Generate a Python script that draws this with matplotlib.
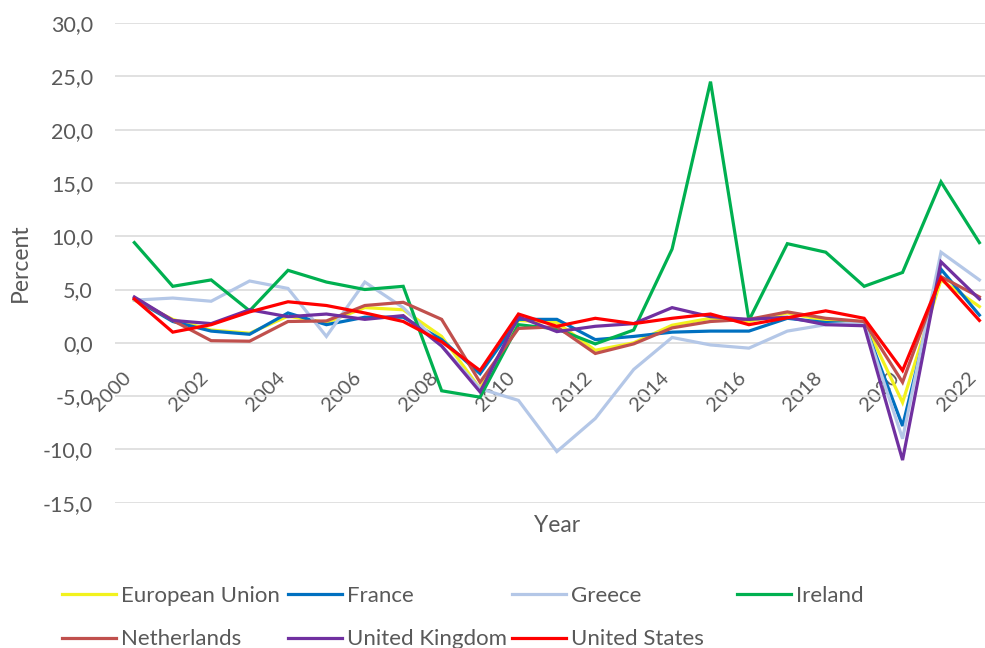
# Real GDP growth, selected economies, 2000-2022
import matplotlib.pyplot as plt
import numpy as np

plt.rcParams['font.family'] = ['Lato', 'DejaVu Sans']

# %%
# Data (percent)
years = list(range(2000, 2023))
eu = [4.0, 2.2, 1.2, 0.9, 2.5, 1.9, 3.3, 3.1, 0.6, -4.3, 2.1, 1.9, -0.7, 0.0, 1.65, 2.3, 2.0, 2.8, 2.1, 2.0, -5.6, 5.9, 3.4]
france = [4.1, 2.0, 1.1, 0.8, 2.8, 1.7, 2.4, 2.4, 0.3, -2.9, 2.2, 2.2, 0.3, 0.6, 1.0, 1.1, 1.1, 2.3, 1.9, 1.8, -7.8, 6.9, 2.6]
greece = [4.0, 4.2, 3.9, 5.8, 5.1, 0.6, 5.7, 3.3, -0.3, -4.3, -5.4, -10.2, -7.1, -2.5, 0.5, -0.2, -0.5, 1.1, 1.7, 1.9, -9.0, 8.5, 5.9]
ireland = [9.4, 5.3, 5.9, 3.0, 6.8, 5.7, 5.0, 5.3, -4.5, -5.1, 1.7, 1.3, -0.1, 1.2, 8.8, 24.5, 2.1, 9.3, 8.5, 5.3, 6.6, 15.1, 9.4]
netherlands = [4.2, 2.1, 0.2, 0.15, 2.0, 2.05, 3.5, 3.8, 2.2, -3.7, 1.35, 1.5, -1.0, -0.1, 1.4, 2.0, 2.2, 2.9, 2.3, 2.0, -3.7, 6.2, 4.3]
uk = [4.3, 2.1, 1.8, 3.1, 2.45, 2.7, 2.2, 2.55, -0.3, -4.6, 2.45, 1.05, 1.55, 1.8, 3.3, 2.45, 2.2, 2.4, 1.7, 1.6, -11.0, 7.6, 4.1]
us = [4.1, 1.0, 1.7, 2.9, 3.85, 3.5, 2.8, 2.0, 0.1, -2.6, 2.7, 1.55, 2.3, 1.8, 2.3, 2.7, 1.7, 2.35, 3.0, 2.3, -2.6, 6.1, 2.1]

names = ['European Union', 'France', 'Greece', 'Ireland', 'Netherlands', 'United Kingdom', 'United States']
series = [eu, france, greece, ireland, netherlands, uk, us]
colors = ['#F2F21E', '#0070C0', '#B4C7E7', '#00B050', '#C0504D', '#7030A0', '#FF0000']

txt = '#595959'

# %%
fig = plt.figure(figsize=(9.85, 6.48), dpi=100)
ax = fig.add_axes([0.1169, 0.2242, 0.8969, 0.7403])

lines = []
for vals, name, c in zip(series, names, colors):
    ln, = ax.plot(years, vals, color=c, lw=2.3, label=name, solid_joinstyle='miter')
    lines.append(ln)

for s in ax.spines.values():
    s.set_visible(False)
ax.spines['bottom'].set_position(('data', 0))

ax.set_xlim(1999.5, 2022.5)
ax.set_ylim(-15, 30)
ax.set_yticks(np.arange(-15, 31, 5))
ax.set_yticklabels([f'{v:.1f}'.replace('.', ',') for v in np.arange(-15, 31, 5)])
ax.set_xticks(years[::2])
ax.set_xticklabels([str(y) for y in years[::2]])

ax.grid(axis='y', color='#D9D9D9', lw=1.1)
ax.set_axisbelow(True)

ax.tick_params(axis='both', length=0, labelcolor=txt)
ax.tick_params(axis='y', pad=16, labelsize=15.5)
ax.tick_params(axis='x', pad=19, labelsize=14.5, labelrotation=45)
for lab in ax.get_xticklabels():
    lab.set_ha('right')
    lab.set_va('top')

ax.set_ylabel('Percent', fontsize=16.5, color=txt)
ax.yaxis.set_label_coords(-0.095, 0.5)
ax.set_xlabel('Year', fontsize=16.5, color=txt)
ax.xaxis.set_label_coords(0.5, -0.026)

# %%
# Legend, one column at a time like Excel lays it out
col_x = [62, 288, 512, 737]
cols = [[0, 4], [1, 5], [2, 6], [3]]
for x, idx in zip(col_x, cols):
    fig.legend([lines[i] for i in idx], [names[i] for i in idx],
               loc='upper left', bbox_to_anchor=(x / 985, 1 - 586 / 648),
               frameon=False, fontsize=16, labelcolor=txt, borderpad=0,
               borderaxespad=0, handlelength=2.45, handletextpad=0.2,
               labelspacing=1.05)

fig.savefig('out.png', dpi=100)
